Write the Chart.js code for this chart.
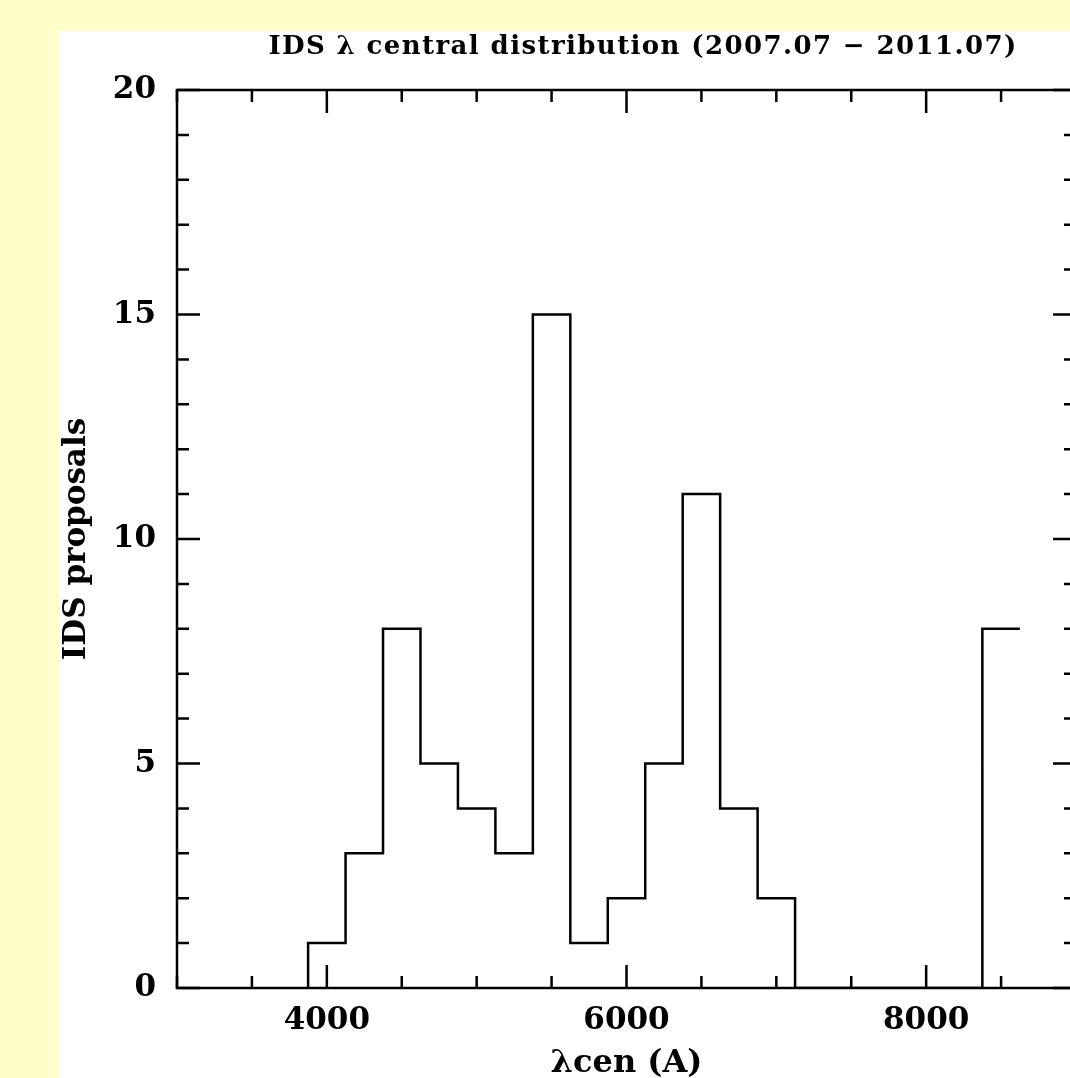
<!DOCTYPE html>
<html>
<head>
<meta charset="utf-8">
<script src="https://cdn.jsdelivr.net/npm/chart.js@4"></script>
<style>
  body { margin: 0; background: #ffffcc; overflow: hidden; }
  #wrap { position: absolute; left: 60px; top: 31px; width: 1050px; height: 1047px; background: #ffffff; }
</style>
</head>
<body>
<div id="wrap"><canvas id="histChart"></canvas></div>
<script>
// bin centres (A) and number of IDS proposals in each 250 A bin
const binCenters = [4000, 4250, 4500, 4750, 5000, 5250, 5500, 5750, 6000, 6250,
                    6500, 6750, 7000, 7250, 7500, 7750, 8000, 8250, 8500];
const counts = [1, 3, 8, 5, 4, 3, 15, 1, 2, 5, 11, 4, 2, 0, 0, 0, 0, 0, 8];
const binWidth = 250;

const xLabelTicks = [4000, 6000, 8000];
const yLabelTicks = [0, 5, 10, 15, 20];

const titleText = "IDS \u03bb central distribution (2007.07 \u2212 2011.07)";
const fontName = '"DejaVu Serif", "Liberation Serif", serif';

// histogram outline: rise at the first edge, then one point per bin left edge
let points = [{ x: binCenters[0] - binWidth / 2, y: 0 }];
binCenters.forEach((c, i) => {
    points.push({ x: c - binWidth / 2, y: counts[i] });
});
points.push({ x: binCenters[binCenters.length - 1] + binWidth / 2, y: counts[counts.length - 1] });

// frame, inward ticks on all four sides, and the title
const framePlugin = {
    id: "frame",
    afterDraw(chart) {
        const ctx = chart.ctx;
        const a = chart.chartArea;
        const xs = chart.scales.x;
        const ys = chart.scales.y;
        ctx.save();
        ctx.strokeStyle = "#000";
        ctx.lineWidth = 2.5;
        ctx.strokeRect(a.left, a.top, a.right - a.left, a.bottom - a.top);

        ctx.beginPath();
        xs.ticks.forEach(t => {
            let px = xs.getPixelForValue(t.value);
            let len = xLabelTicks.includes(t.value) ? 23 : 12;
            ctx.moveTo(px, a.bottom); ctx.lineTo(px, a.bottom - len);
            ctx.moveTo(px, a.top); ctx.lineTo(px, a.top + len);
        });
        ys.ticks.forEach(t => {
            let py = ys.getPixelForValue(t.value);
            let len = yLabelTicks.includes(t.value) ? 23 : 12;
            ctx.moveTo(a.left, py); ctx.lineTo(a.left + len, py);
            ctx.moveTo(a.right, py); ctx.lineTo(a.right - len, py);
        });
        ctx.stroke();

        ctx.fillStyle = "#000";
        ctx.font = "bold 26px " + fontName;
        ctx.letterSpacing = "1.4px";
        ctx.textAlign = "center";
        ctx.textBaseline = "middle";
        ctx.fillText(titleText, 583, 16);
        ctx.restore();
    }
};

new Chart(document.getElementById("histChart"), {
    type: "line",
    data: {
        datasets: [{
            label: "IDS proposals",
            data: points,
            stepped: true,
            borderColor: "#000",
            borderWidth: 2.5,
            pointRadius: 0,
            fill: false
        }]
    },
    options: {
        responsive: true,
        maintainAspectRatio: false,
        animation: false,
        layout: { padding: { left: 0, top: 59, right: 34, bottom: 0 } },
        plugins: {
            legend: { display: false },
            tooltip: { enabled: false }
        },
        scales: {
            x: {
                type: "linear",
                min: 3000,
                max: 9000,
                afterFit: s => { s.height = 90; },
                grid: { display: false, drawTicks: false },
                border: { display: false },
                ticks: {
                    stepSize: 500,
                    autoSkip: false,
                    maxRotation: 0,
                    padding: 17,
                    color: "#000",
                    font: { family: fontName, size: 31, weight: "bold", lineHeight: 1 },
                    callback: v => xLabelTicks.includes(v) ? String(v) : ""
                },
                title: {
                    display: true,
                    text: "\u03bbcen (A)",
                    color: "#000",
                    font: { family: fontName, size: 32, weight: "bold", lineHeight: 1 },
                    padding: { top: 0, bottom: -2 }
                }
            },
            y: {
                min: 0,
                max: 20,
                afterFit: s => { s.width = 117; },
                grid: { display: false, drawTicks: false },
                border: { display: false },
                ticks: {
                    stepSize: 1,
                    autoSkip: false,
                    padding: 21,
                    color: "#000",
                    font: { family: fontName, size: 31, weight: "bold", lineHeight: 1 },
                    callback: v => yLabelTicks.includes(v) ? String(v) : ""
                },
                title: {
                    display: true,
                    text: "IDS proposals",
                    color: "#000",
                    font: { family: fontName, size: 31, weight: "bold", lineHeight: 1 },
                    padding: { top: 1, bottom: 0 }
                }
            }
        }
    },
    plugins: [framePlugin]
});
</script>
</body>
</html>
